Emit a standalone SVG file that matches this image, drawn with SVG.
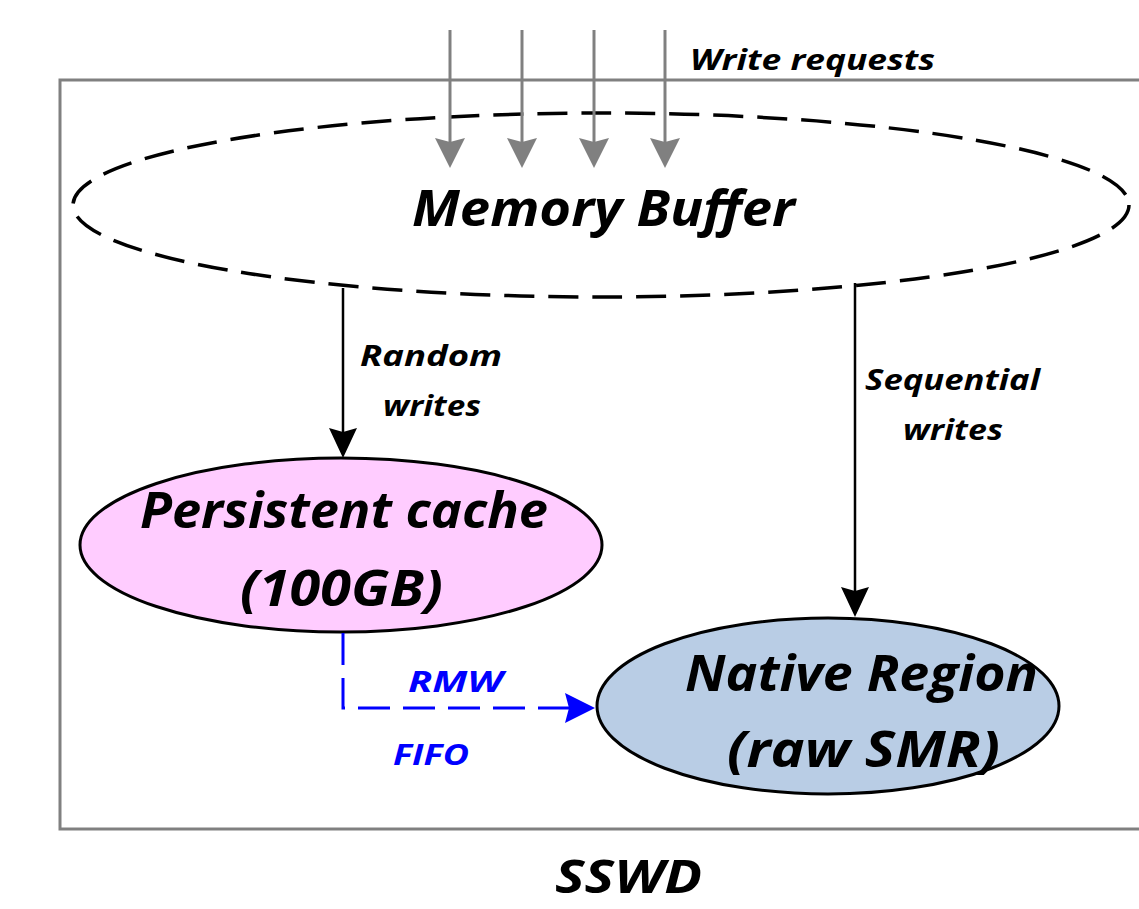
<svg xmlns="http://www.w3.org/2000/svg" width="1139" height="909" viewBox="0 0 1139 909">
<style>
text{font-family:"Open Sans","Noto Sans","Liberation Sans",sans-serif;font-weight:bold;font-style:italic;fill:#000}
.big{font-size:50px}
.mid{font-size:29px}
.blue{fill:#0000FF}
</style>
<defs>
<marker id="ag" viewBox="0 0 30 30" refX="20" refY="15" markerWidth="30" markerHeight="30" markerUnits="userSpaceOnUse" orient="auto"><path d="M0,0 L30,15 L0,30 L4,15 Z" fill="#808080"/></marker>
<marker id="ab" viewBox="0 0 30 30" refX="20" refY="15" markerWidth="30" markerHeight="30" markerUnits="userSpaceOnUse" orient="auto"><path d="M0,1 L30,15 L0,29 L4,15 Z" fill="#000"/></marker>
<marker id="au" viewBox="0 0 30 30" refX="20" refY="15" markerWidth="30" markerHeight="30" markerUnits="userSpaceOnUse" orient="auto"><path d="M0,0 L30,15 L0,30 L4,15 Z" fill="#0000FF"/></marker>
</defs>
<rect id="sswd-box" x="60" y="80" width="1110" height="749" fill="none" stroke="#808080" stroke-width="3"/>
<g id="memory-buffer">
<ellipse cx="601" cy="205" rx="528" ry="92" fill="none" stroke="#000" stroke-width="3.5" stroke-dasharray="30 14"/>
<text class="big" x="412" y="226" textLength="383" lengthAdjust="spacingAndGlyphs">Memory Buffer</text>
</g>
<g id="persistent-cache">
<ellipse cx="341" cy="545" rx="261" ry="87" fill="#FFCCFF" stroke="#000" stroke-width="3"/>
<text class="big" x="140" y="528" textLength="408" lengthAdjust="spacingAndGlyphs">Persistent cache</text>
<text class="big" x="240" y="606" textLength="203" lengthAdjust="spacingAndGlyphs">(100GB)</text>
</g>
<g id="native-region">
<ellipse cx="828" cy="706" rx="231" ry="88" fill="#B9CDE5" stroke="#000" stroke-width="3"/>
<text class="big" x="685" y="691" textLength="353" lengthAdjust="spacingAndGlyphs">Native Region</text>
<text class="big" x="727" y="767" textLength="273" lengthAdjust="spacingAndGlyphs">(raw SMR)</text>
</g>
<g id="connectors">
<g stroke="#808080" stroke-width="3" marker-end="url(#ag)">
<line x1="450" y1="30" x2="450" y2="158"/>
<line x1="522" y1="30" x2="522" y2="158"/>
<line x1="594" y1="30" x2="594" y2="158"/>
<line x1="665" y1="30" x2="665" y2="158"/>
</g>
<line x1="343" y1="288" x2="343" y2="448" stroke="#000" stroke-width="2.5" marker-end="url(#ab)"/>
<line x1="855" y1="283" x2="855" y2="607" stroke="#000" stroke-width="2.5" marker-end="url(#ab)"/>
<path d="M343,633 L343,708 L585,708" fill="none" stroke="#0000FF" stroke-width="3" stroke-dasharray="32 13" marker-end="url(#au)"/>
</g>
<g id="labels">
<text class="mid" x="690" y="70" textLength="245" lengthAdjust="spacingAndGlyphs">Write requests</text>
<text class="mid" x="360" y="366" textLength="142" lengthAdjust="spacingAndGlyphs">Random</text>
<text class="mid" x="383" y="416" textLength="98" lengthAdjust="spacingAndGlyphs">writes</text>
<text class="mid" x="865" y="390" textLength="175" lengthAdjust="spacingAndGlyphs">Sequential</text>
<text class="mid" x="903" y="440" textLength="100" lengthAdjust="spacingAndGlyphs">writes</text>
<text class="mid blue" x="408" y="692" textLength="95" lengthAdjust="spacingAndGlyphs">RMW</text>
<text class="mid blue" x="393" y="765" textLength="76" lengthAdjust="spacingAndGlyphs">FIFO</text>
<text x="555" y="893" font-size="46" textLength="147" lengthAdjust="spacingAndGlyphs">SSWD</text>
</g>
</svg>
